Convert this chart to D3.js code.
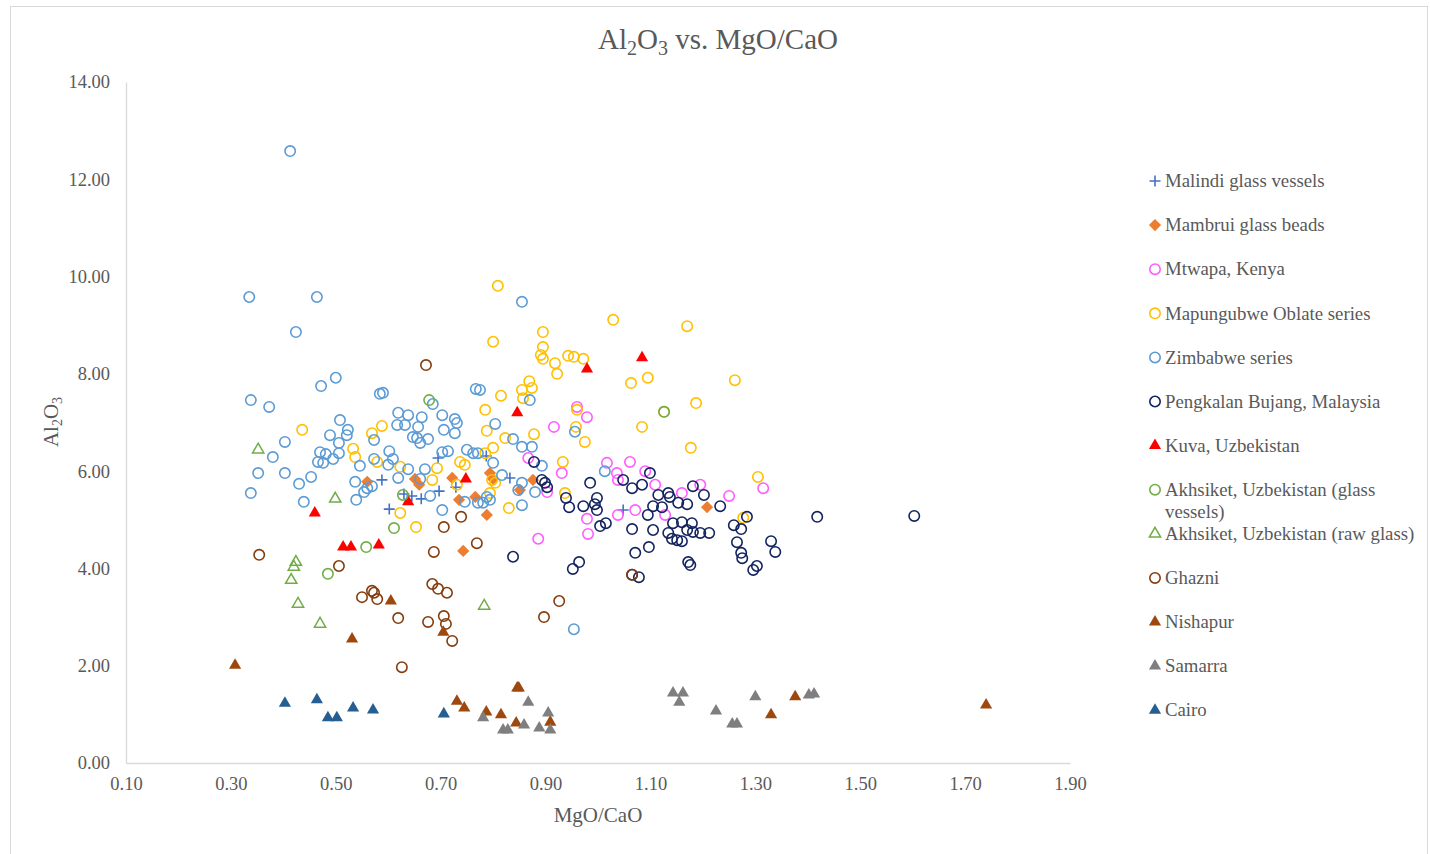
<!DOCTYPE html>
<html><head><meta charset="utf-8">
<script src="https://cdn.jsdelivr.net/npm/d3@7"></script>
<style>body{margin:0;background:#fff;} text{font-family:"Liberation Serif","Times New Roman",serif;}</style>
</head><body><svg id="c" width="1430" height="854"></svg>
<script>
const xTicks=[0.10,0.30,0.50,0.70,0.90,1.10,1.30,1.50,1.70,1.90];
const yTicks=[0,2,4,6,8,10,12,14];

const malindi=[[0.588,5.82],[0.602,5.22],[0.630,5.53],[0.645,5.49],[0.663,5.43],[0.697,5.59],[0.729,5.67],[0.695,6.27],[0.787,6.31],[0.832,5.86],[1.048,5.20]];
const mambrui=[[0.560,5.78],[0.651,5.84],[0.659,5.72],[0.722,5.86],[0.735,5.41],[0.766,5.47],[0.743,4.36],[0.794,5.96],[0.800,5.84],[0.876,5.82],[0.851,5.61],[0.788,5.10],[1.208,5.26]];
const mtwapa=[[0.960,7.32],[0.979,7.11],[0.916,6.91],[1.017,6.17],[1.061,6.19],[1.036,5.96],[1.038,5.82],[1.090,6.00],[1.109,5.72],[1.195,5.72],[0.931,5.96],[0.903,5.57],[1.160,5.55],[0.979,5.02],[0.981,4.71],[0.886,4.61],[1.038,5.10],[1.071,5.20],[1.128,5.10],[1.250,5.49],[1.315,5.65],[0.867,6.27]];
const mapungubwe=[[0.436,6.85],[0.588,6.93],[0.569,6.78],[0.533,6.46],[0.537,6.29],[0.579,6.19],[0.623,6.09],[0.693,6.06],[0.737,6.19],[0.746,6.13],[0.731,5.72],[0.623,5.14],[0.653,4.85],[0.684,5.82],[0.809,9.81],[1.029,9.11],[1.170,8.98],[0.895,8.86],[0.800,8.66],[0.895,8.55],[0.891,8.39],[0.895,8.31],[0.918,8.22],[0.922,8.00],[0.943,8.37],[0.954,8.35],[0.972,8.31],[1.063,7.81],[1.095,7.92],[1.187,7.40],[0.869,7.85],[0.855,7.67],[0.874,7.71],[0.857,7.50],[0.815,7.55],[0.785,7.26],[0.788,6.83],[0.823,6.68],[0.878,6.76],[0.960,7.26],[0.958,6.91],[0.975,6.60],[1.084,6.91],[1.126,7.22],[1.177,6.48],[0.933,6.19],[0.800,6.48],[0.785,6.37],[0.798,5.82],[0.804,5.76],[0.794,5.55],[0.937,5.55],[0.830,5.24],[1.261,7.87],[1.305,5.88],[1.277,5.04]];
const zimbabwe=[[0.413,12.58],[0.335,9.58],[0.464,9.58],[0.424,8.86],[0.472,7.75],[0.500,7.92],[0.338,7.46],[0.373,7.32],[0.584,7.59],[0.590,7.61],[0.685,7.38],[0.767,7.69],[0.508,7.05],[0.619,7.20],[0.638,7.15],[0.664,7.11],[0.703,7.15],[0.727,7.07],[0.523,6.85],[0.489,6.74],[0.521,6.74],[0.403,6.60],[0.506,6.58],[0.380,6.29],[0.470,6.39],[0.481,6.35],[0.495,6.25],[0.506,6.37],[0.466,6.19],[0.476,6.17],[0.352,5.96],[0.403,5.96],[0.430,5.74],[0.453,5.88],[0.338,5.55],[0.439,5.37],[0.539,5.41],[0.537,5.78],[0.546,6.11],[0.573,6.64],[0.573,6.25],[0.602,6.41],[0.609,6.25],[0.600,6.13],[0.617,6.95],[0.632,6.95],[0.657,6.91],[0.647,6.70],[0.655,6.68],[0.661,6.58],[0.676,6.66],[0.706,6.85],[0.731,6.99],[0.727,6.78],[0.619,5.86],[0.638,6.04],[0.670,6.04],[0.560,5.65],[0.569,5.69],[0.554,5.57],[0.680,5.49],[0.703,5.20],[0.661,5.84],[0.703,6.39],[0.714,6.41],[0.750,6.44],[0.762,6.37],[0.771,6.37],[0.746,5.37],[0.771,5.35],[0.855,9.48],[0.775,7.67],[0.870,7.46],[0.804,6.97],[0.838,6.66],[0.855,6.50],[0.874,6.50],[0.956,6.81],[0.893,6.11],[0.800,6.17],[1.013,6.00],[0.848,5.61],[0.855,5.76],[0.880,5.57],[0.817,5.92],[0.788,5.47],[0.781,5.35],[0.794,5.41],[0.855,5.30],[0.954,2.75]];
const pengkalan=[[0.878,6.19],[0.893,5.82],[0.899,5.76],[0.903,5.67],[0.985,5.76],[1.048,5.82],[1.065,5.65],[1.084,5.72],[1.099,5.96],[1.115,5.51],[1.134,5.55],[1.137,5.47],[1.181,5.69],[1.202,5.51],[0.998,5.45],[0.939,5.45],[0.945,5.26],[0.972,5.28],[0.994,5.32],[0.998,5.20],[1.004,4.87],[1.015,4.93],[1.065,4.81],[1.105,4.79],[1.095,5.10],[1.105,5.28],[1.122,5.26],[1.143,4.93],[1.160,4.95],[1.179,4.93],[1.134,4.73],[1.141,4.61],[1.151,4.58],[1.160,4.56],[1.170,4.79],[1.181,4.75],[1.195,4.73],[1.212,4.73],[1.097,4.44],[1.071,4.32],[0.952,3.99],[0.964,4.13],[0.838,4.24],[1.065,3.87],[1.078,3.82],[1.172,4.13],[1.176,4.07],[1.153,5.35],[1.170,5.32],[1.233,5.28],[1.259,4.89],[1.273,4.81],[1.284,5.06],[1.265,4.54],[1.273,4.32],[1.275,4.21],[1.296,3.97],[1.303,4.05],[1.330,4.56],[1.338,4.34],[1.418,5.06],[1.603,5.08]];
const kuva=[[1.084,8.33],[0.979,8.10],[0.846,7.20],[0.748,5.84],[0.638,5.37],[0.460,5.14],[0.514,4.44],[0.529,4.44],[0.582,4.48]];
const akhsiketVessels=[[0.678,7.46],[1.126,7.22],[0.628,5.51],[0.611,4.83],[0.558,4.44],[0.485,3.89]];
const akhsiketRaw=[[0.352,6.44],[0.499,5.43],[0.424,4.13],[0.420,4.03],[0.415,3.76],[0.428,3.27],[0.470,2.86],[0.783,3.23]];
const ghazni=[[0.672,8.18],[0.354,4.28],[0.506,4.05],[0.550,3.41],[0.569,3.54],[0.573,3.50],[0.579,3.37],[0.619,2.98],[0.626,1.97],[0.684,3.68],[0.695,3.58],[0.712,3.50],[0.676,2.90],[0.706,3.02],[0.710,2.86],[0.722,2.51],[0.687,4.34],[0.706,4.85],[0.739,5.06],[0.769,4.52],[1.065,3.87],[0.926,3.33],[0.897,3.00]];
const nishapur=[[0.308,2.01],[0.531,2.55],[0.605,3.33],[0.705,2.69],[0.731,1.27],[0.745,1.13],[0.846,1.54],[0.849,1.54],[0.787,1.05],[0.815,0.99],[0.844,0.82],[0.909,0.84],[1.376,1.36],[1.330,0.99],[1.740,1.19]];
const samarra=[[0.867,1.25],[0.781,0.93],[0.819,0.68],[0.828,0.68],[0.859,0.78],[0.888,0.72],[0.905,1.03],[0.909,0.68],[1.143,1.44],[1.162,1.44],[1.155,1.25],[1.225,1.07],[1.256,0.80],[1.265,0.80],[1.300,1.36],[1.402,1.40],[1.412,1.42]];
const cairo=[[0.403,1.23],[0.464,1.30],[0.485,0.93],[0.502,0.93],[0.533,1.13],[0.571,1.09],[0.706,1.01]];

const seriesNames=["Malindi glass vessels","Mambrui glass beads","Mtwapa, Kenya","Mapungubwe Oblate series","Zimbabwe series","Pengkalan Bujang, Malaysia","Kuva, Uzbekistan","Akhsiket, Uzbekistan (glass vessels)","Akhsiket, Uzbekistan (raw glass)","Ghazni","Nishapur","Samarra","Cairo"];
const seriesData=[malindi,mambrui,mtwapa,mapungubwe,zimbabwe,pengkalan,kuva,akhsiketVessels,akhsiketRaw,ghazni,nishapur,samarra,cairo];
const seriesColors=["#4472C4","#ED7D31","#FF5CFF","#FFC000","#5B9BD5","#13235F","#FF0000","#70AD47","#70AD47","#843C0C","#9E480E","#7F7F7F","#255E91"];
const seriesShapes=["plus","diamond","circle","circle","circle","circle","triangle","circle","triangleOpen","circle","triangle","triangle","triangle"];

const svg=d3.select("#c");
svg.append("rect").attr("x",10.5).attr("y",6.5).attr("width",1417).attr("height",900).attr("fill","#fff").attr("stroke","#D9D9D9");

const x=d3.scaleLinear().domain([0.1,1.9]).range([126,1070]);
const y=d3.scaleLinear().domain([0,14]).range([763,82]);
const gray="#595959";

// axes
const xa=svg.append("g").attr("transform","translate(0,763)").call(d3.axisBottom(x).tickValues(xTicks).tickFormat(d3.format(".2f")).tickSize(0).tickPadding(14));
const ya=svg.append("g").attr("transform","translate(126,0)").call(d3.axisLeft(y).tickValues(yTicks).tickFormat(d3.format(".2f")).tickSize(0).tickPadding(16));
[xa,ya].forEach(g=>{g.select(".domain").attr("stroke","#D9D9D9").attr("stroke-width",1.3);
  g.selectAll("text").attr("fill",gray).attr("font-size",18.5).attr("font-family","Liberation Serif, serif");});

// title
const t=svg.append("text").attr("x",718).attr("y",49).attr("text-anchor","middle").attr("fill",gray).attr("font-size",29);
t.append("tspan").text("Al");
t.append("tspan").text("2").attr("font-size",20).attr("dy",6);
t.append("tspan").text("O").attr("dy",-6);
t.append("tspan").text("3").attr("font-size",20).attr("dy",6);
t.append("tspan").text(" vs. MgO/CaO").attr("dy",-6);

// axis titles
svg.append("text").attr("x",598).attr("y",822).attr("text-anchor","middle").attr("fill",gray).attr("font-size",21).text("MgO/CaO");
const yt=svg.append("text").attr("transform","translate(58,422) rotate(-90)").attr("text-anchor","middle").attr("fill",gray).attr("font-size",21);
yt.append("tspan").text("Al");
yt.append("tspan").text("2").attr("font-size",14).attr("dy",4);
yt.append("tspan").text("O").attr("dy",-4);
yt.append("tspan").text("3").attr("font-size",14).attr("dy",4);

function drawMarker(g,shape,color,cx,cy){
  if(shape==="circle"){
    g.append("circle").attr("cx",cx).attr("cy",cy).attr("r",5.2).attr("fill","none").attr("stroke",color).attr("stroke-width",1.6);
  } else if(shape==="plus"){
    g.append("path").attr("d",`M${cx-5.5},${cy}H${cx+5.5}M${cx},${cy-5.5}V${cy+5.5}`).attr("stroke",color).attr("stroke-width",1.6).attr("fill","none");
  } else if(shape==="diamond"){
    g.append("path").attr("d",d3.symbol().type(d3.symbolDiamond2).size(95)()).attr("transform",`translate(${cx},${cy})`).attr("fill",color);
  } else if(shape==="triangle"){
    g.append("path").attr("d",d3.symbol().type(d3.symbolTriangle).size(64)()).attr("transform",`translate(${cx},${cy})`).attr("fill",color);
  } else if(shape==="triangleOpen"){
    g.append("path").attr("d",d3.symbol().type(d3.symbolTriangle).size(55)()).attr("transform",`translate(${cx},${cy})`).attr("fill","none").attr("stroke",color).attr("stroke-width",1.5);
  }
}

const plot=svg.append("g");
seriesData.forEach((data,i)=>{
  const g=plot.append("g");
  data.forEach(d=>drawMarker(g,seriesShapes[i],seriesColors[i],x(d[0]),y(d[1])));
});

// legend
const lg=svg.append("g");
seriesNames.forEach((name,i)=>{
  const ly=181+i*44.1;
  drawMarker(lg,seriesShapes[i],seriesColors[i],1155,ly);
  const tx=lg.append("text").attr("x",1165).attr("y",ly).attr("dy","0.33em").attr("fill",gray).attr("font-size",18.8);
  if(name==="Akhsiket, Uzbekistan (glass vessels)"){
    tx.text("Akhsiket, Uzbekistan (glass");
    lg.append("text").attr("x",1165).attr("y",ly+22).attr("dy","0.33em").attr("fill",gray).attr("font-size",18.8).text("vessels)");
  } else tx.text(name);
});
</script></body></html>
